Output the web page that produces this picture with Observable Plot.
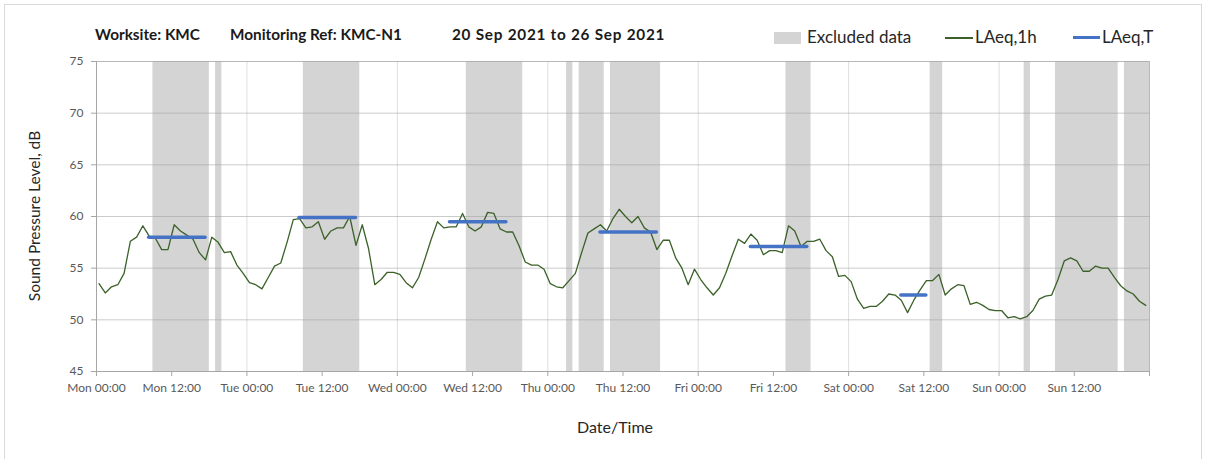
<!DOCTYPE html>
<html><head><meta charset="utf-8">
<script src="https://cdn.jsdelivr.net/npm/d3@7"></script>
<script src="https://cdn.jsdelivr.net/npm/@observablehq/plot@0.6"></script>
<style>
body{margin:0;background:#fff;}
#wrap{position:relative;width:1208px;height:459px;overflow:hidden;font-family:Lato,"Open Sans",sans-serif;}
#border{position:absolute;left:4px;top:4px;width:1198px;height:480px;border:1px solid #d9d9d9;box-sizing:border-box;}
#chart{position:absolute;left:0;top:0;}
.t{position:absolute;white-space:nowrap;line-height:1;}
.title{font-weight:bold;font-size:15.3px;color:#1a1a1a;top:27px;}
.leg{font-size:17px;color:#262626;top:28px;}
.sw{position:absolute;}
</style></head><body>
<div id="wrap">
  <div id="border"></div>
  <div id="chart"></div>
  <div class="t title" style="left:95px">Worksite: KMC</div>
  <div class="t title" style="left:230px">Monitoring Ref: KMC-N1</div>
  <div class="t title" style="left:452px;letter-spacing:0.75px">20 Sep 2021 to 26 Sep 2021</div>
  <div class="sw" style="left:774px;top:32px;width:27px;height:12px;background:#d4d4d4"></div>
  <div class="t leg" style="left:807px">Excluded data</div>
  <div class="sw" style="left:945px;top:37px;width:28px;height:1.5px;background:#3b6128"></div>
  <div class="t leg" style="left:975px">LAeq,1h</div>
  <div class="sw" style="left:1073px;top:36px;width:27px;height:3px;background:#4472c4"></div>
  <div class="t leg" style="left:1102px">LAeq,T</div>
  <div class="t" style="left:35px;top:216px;font-size:15.5px;color:#262626;transform:translate(-50%,-50%) rotate(-90deg);">Sound Pressure Level, dB</div>
  <div class="t" style="left:615px;top:427px;font-size:16px;color:#262626;transform:translate(-50%,-50%);">Date/Time</div>
</div>
<script>
// Hourly LAeq,1h readings from Mon 20 Sep 2021 00:00 (hours 0..167)
const laeq1h = [
  53.5,52.6,53.2,53.4,54.5,57.6,58.0,59.1,58.1,57.9,56.8,56.8,59.2,58.6,58.2,57.8,56.5,55.8,58.0,57.5,56.5,56.6,55.3,54.5,
  53.6,53.4,53.0,54.1,55.2,55.5,57.5,59.7,59.8,58.9,59.0,59.5,57.8,58.6,58.9,58.9,60.0,57.2,59.2,56.9,53.4,53.9,54.6,54.6,
  54.4,53.6,53.1,54.1,55.9,57.8,59.5,58.9,59.0,59.0,60.3,59.0,58.6,59.0,60.4,60.3,58.8,58.5,58.5,57.2,55.6,55.3,55.3,54.9,
  53.5,53.2,53.1,53.8,54.5,56.5,58.4,58.8,59.2,58.6,59.8,60.7,60.0,59.4,60.0,58.9,58.5,56.8,57.7,57.7,56.0,55.0,53.4,54.9,
  53.9,53.1,52.4,53.1,54.5,56.2,57.8,57.4,58.3,57.7,56.3,56.7,56.7,56.5,59.1,58.6,57.1,57.6,57.6,57.8,56.7,56.1,54.2,54.3,
  53.7,52.0,51.1,51.3,51.3,51.8,52.5,52.4,51.9,50.7,51.9,52.9,53.8,53.8,54.4,52.4,53.0,53.4,53.3,51.5,51.7,51.4,51.0,50.9,
  50.9,50.2,50.3,50.1,50.3,50.9,52.0,52.3,52.4,53.9,55.7,56.0,55.7,54.7,54.7,55.2,55.0,55.0,54.1,53.3,52.8,52.5,51.8,51.4
];
const readingMinute = 24; // plotted minutes past each hour

// Excluded data periods (hours from Mon 00:00)
const excludedStart = [9, 19, 33, 59, 75, 77, 82, 110, 133, 148, 153, 164];
const excludedEnd   = [18, 20, 42, 68, 76, 81, 90, 114, 135, 149, 163, 168];

// LAeq,T daytime values
const laeqTDay       = [0, 1, 2, 3, 4, 5];
const laeqTStartHour = [8, 8, 8, 8, 8, 8];
const laeqTEndHour   = [17, 17, 17, 17, 17, 12];
const laeqTValue     = [58.0, 59.9, 59.5, 58.5, 57.1, 52.4];

// Axis ticks
const yTicks = [45, 50, 55, 60, 65, 70, 75];
const xTickLabels = ["Mon 00:00","Mon 12:00","Tue 00:00","Tue 12:00","Wed 00:00","Wed 12:00","Thu 00:00",
  "Thu 12:00","Fri 00:00","Fri 12:00","Sat 00:00","Sat 12:00","Sun 00:00","Sun 12:00",""];
const xTicks = xTickLabels.map((_, i) => i * 12);
const dayLines = [24, 48, 72, 96, 120, 144];

const lineData = laeq1h.map((v, i) => ({t: i + readingMinute / 60, v}));
const bands = excludedStart.map((s, i) => ({s, e: excludedEnd[i]}));
const laeqT = laeqTDay.map((d, i) => ({
  s: d * 24 + laeqTStartHour[i] + readingMinute / 60,
  e: d * 24 + laeqTEndHour[i] + readingMinute / 60,
  v: laeqTValue[i]
}));

const chart = Plot.plot({
  width: 1208, height: 459,
  marginLeft: 96, marginRight: 59, marginTop: 61, marginBottom: 88,
  style: {fontFamily: "Lato, 'Open Sans', sans-serif", fontSize: "12px", background: "transparent"},
  x: {type: "linear", domain: [0, 168]},
  y: {domain: [45, 75]},
  marks: [
    Plot.rect(bands, {x1: "s", x2: "e", fill: "#d4d4d4"}),
    Plot.ruleX(dayLines, {stroke: "#a0a0a0", strokeOpacity: 0.35}),
    Plot.ruleY(yTicks.slice(1, -1), {stroke: "#a0a0a0", strokeOpacity: 0.55}),
    Plot.ruleY([75], {stroke: "#a6a6a6", strokeOpacity: 0.8}),
    Plot.ruleX([168], {stroke: "#a6a6a6", strokeOpacity: 0.8}),
    Plot.ruleX([0], {stroke: "#a6a6a6"}),
    Plot.ruleY([45], {stroke: "#a6a6a6"}),
    Plot.axisY(yTicks, {tickSize: 5, tickPadding: 8, stroke: "#a6a6a6", fill: "#595959", fontSize: 12, label: null}),
    Plot.axisX(xTicks, {tickSize: 5, tickPadding: 7, stroke: "#a6a6a6", fill: "#595959", fontSize: 12, label: null,
      tickFormat: d => xTickLabels[d / 12]}),
    Plot.line(lineData, {x: "t", y: "v", stroke: "#3b6128", strokeWidth: 1.3}),
    Plot.ruleY(laeqT, {y: "v", x1: "s", x2: "e", stroke: "#4472c4", strokeWidth: 3.5, strokeLinecap: "round"})
  ]
});
document.getElementById("chart").appendChild(chart);
</script>
</body></html>
